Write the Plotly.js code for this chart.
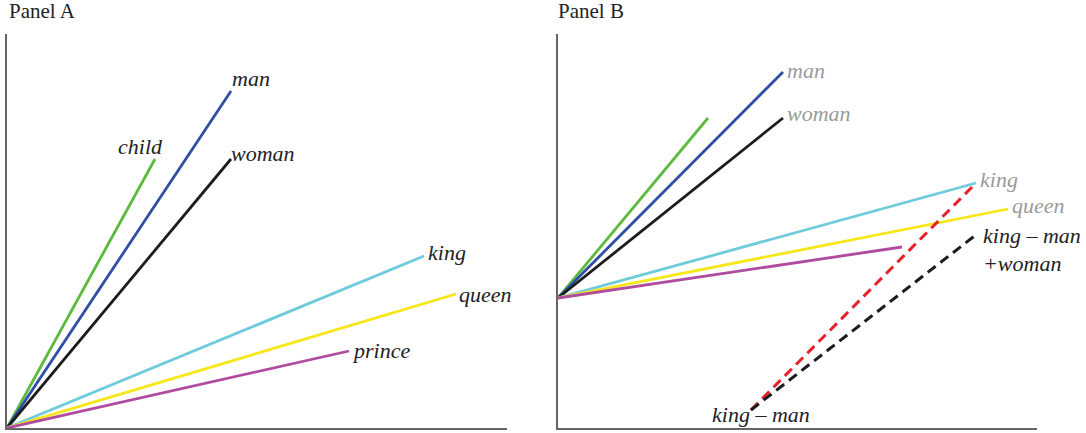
<!DOCTYPE html>
<html><head><meta charset="utf-8">
<script src="https://cdn.plot.ly/plotly-3.0.1.min.js"></script>
<style>html,body{margin:0;padding:0;background:#fff}</style>
</head><body><div id="chart"></div>
<script>
// Panel A: word vectors from the origin
const wordsA = ["child", "man", "woman", "king", "queen", "prince"];
const xA = [148, 224, 224, 417, 449, 342];
const yA = [269, 337, 269, 172, 134, 77];
const originA = [0, 0];

// Panel B: same words, shifted origin
const wordsB = ["child", "man", "woman", "king", "queen", "prince"];
const xB = [150, 225, 225, 418, 450, 344];
const yB = [310, 356, 310, 245, 219, 181];
const originB = [0, 130];

// Panel B: vector arithmetic points
const kingMinusMan = [193, 18];
const kingMinusManPlusWoman = [419, 194];

const colors = {child: "#5cba3c", man: "#2f4fa6", woman: "#1c1c1c", king: "#6dcbdb", queen: "#f7e618", prince: "#b04c9f"};
const FAM = "Liberation Serif";
const fs = 22;

const traces = [];
wordsA.forEach((w, i) => {
  traces.push({x: [originA[0], xA[i]], y: [originA[1], yA[i]], xaxis: "x", yaxis: "y", mode: "lines",
    line: {color: colors[w], width: 2.8}, hoverinfo: "skip"});
});
wordsB.forEach((w, i) => {
  traces.push({x: [originB[0], xB[i]], y: [originB[1], yB[i]], xaxis: "x2", yaxis: "y2", mode: "lines",
    line: {color: colors[w], width: 2.8}, hoverinfo: "skip"});
});
const iKing = wordsB.indexOf("king");
traces.push({x: [kingMinusMan[0], xB[iKing]], y: [kingMinusMan[1], yB[iKing]], xaxis: "x2", yaxis: "y2",
  mode: "lines", line: {color: "#e8202a", width: 3, dash: "10px,6px"}, hoverinfo: "skip"});
traces.push({x: [kingMinusMan[0], kingMinusManPlusWoman[0]], y: [kingMinusMan[1], kingMinusManPlusWoman[1]],
  xaxis: "x2", yaxis: "y2", mode: "lines", line: {color: "#1c1c1c", width: 3, dash: "10px,6px"}, hoverinfo: "skip"});

// label styles per word (offsets in pixels)
const labA = {
  child: {xanchor: "center", xs: -15, ys: 13},
  man: {xanchor: "left", xs: -1, ys: 13},
  woman: {xanchor: "left", xs: -2, ys: 6},
  king: {xanchor: "left", xs: 2, ys: 4},
  queen: {xanchor: "left", xs: 1, ys: 0},
  prince: {xanchor: "left", xs: 1, ys: 1}
};
const labB = {
  man: {xs: 2, ys: 2},
  woman: {xs: 2, ys: 5},
  king: {xs: 2, ys: 4},
  queen: {xs: 2, ys: 4}
};
const ann = [];
wordsA.forEach((w, i) => {
  const s = labA[w];
  ann.push({x: xA[i], y: yA[i], xref: "x", yref: "y", text: "<i>" + w + "</i>", showarrow: false,
    xanchor: s.xanchor, yanchor: "middle", xshift: s.xs, yshift: s.ys, font: {family: FAM, size: fs, color: "#222"}});
});
wordsB.forEach((w, i) => {
  const s = labB[w];
  if (!s) return;
  ann.push({x: xB[i], y: yB[i], xref: "x2", yref: "y2", text: "<i>" + w + "</i>", showarrow: false,
    xanchor: "left", yanchor: "middle", xshift: s.xs, yshift: s.ys, font: {family: FAM, size: fs, color: "#9a9a9a"}});
});
ann.push({x: kingMinusManPlusWoman[0], y: kingMinusManPlusWoman[1], xref: "x2", yref: "y2", text: "<i>king – man</i>",
  showarrow: false, xanchor: "left", yanchor: "middle", xshift: 4, yshift: -1, font: {family: FAM, size: fs, color: "#222"}});
ann.push({x: kingMinusManPlusWoman[0], y: kingMinusManPlusWoman[1], xref: "x2", yref: "y2", text: "<i>+woman</i>",
  showarrow: false, xanchor: "left", yanchor: "middle", xshift: 4, yshift: -29, font: {family: FAM, size: fs, color: "#222"}});
ann.push({x: kingMinusMan[0], y: kingMinusMan[1], xref: "x2", yref: "y2", text: "<i>king – man</i>",
  showarrow: false, xanchor: "center", yanchor: "middle", xshift: 10, yshift: -4, font: {family: FAM, size: fs, color: "#222"}});
ann.push({x: 0.006, y: 1.0, xref: "paper", yref: "paper", text: "Panel A", showarrow: false, xanchor: "left", yanchor: "top",
  yshift: 3, font: {family: FAM, size: 21, color: "#222"}});
ann.push({x: 0.512, y: 1.0, xref: "paper", yref: "paper", text: "Panel B", showarrow: false, xanchor: "left", yanchor: "top",
  yshift: 3, font: {family: FAM, size: 21, color: "#222"}});

const ax = (dom, rng) => ({domain: dom, range: rng, showline: true, linecolor: "#666", linewidth: 2,
  showgrid: false, zeroline: false, showticklabels: false, ticks: "", fixedrange: true});

const layout = {
  width: 1086, height: 433, margin: {l: 0, r: 0, t: 0, b: 0},
  paper_bgcolor: "#fff", plot_bgcolor: "#fff", showlegend: false,
  font: {family: FAM},
  xaxis: Object.assign(ax([7 / 1086, 507 / 1086], [0, 500]), {anchor: "y"}),
  yaxis: Object.assign(ax([5 / 433, 399 / 433], [0, 394]), {anchor: "x"}),
  xaxis2: Object.assign(ax([558 / 1086, 1037 / 1086], [0, 479]), {anchor: "y2"}),
  yaxis2: Object.assign(ax([5 / 433, 399 / 433], [0, 394]), {anchor: "x2"}),
  annotations: ann
};
Plotly.newPlot("chart", traces, layout, {displayModeBar: false});
</script></body></html>
